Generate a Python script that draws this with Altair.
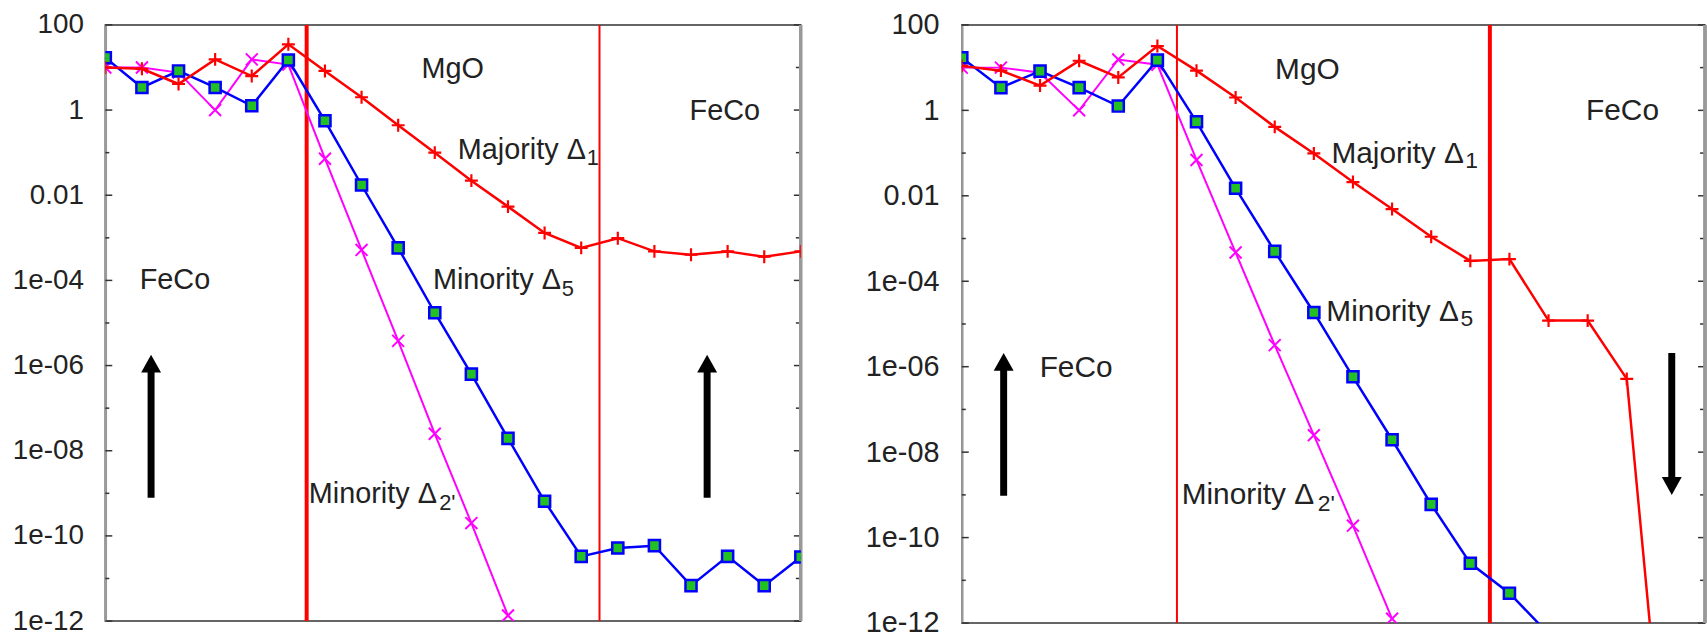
import altair as alt
import pandas as pd
import numpy as np

# ---------------- data ----------------
# x index of each monolayer: 0..19
# LEFT panel (parallel magnetisation)
L_red = [10, 9.3, 4.1, 15.5, 6.3, 35, 8.3, 2.0, 0.44, 0.10, 0.022, 5.4e-3, 1.3e-3,
         5.8e-4, 9.8e-4, 4.8e-4, 4.0e-4, 4.8e-4, 3.6e-4, 4.8e-4]
L_mag = [10, 10, 7.6, 1.0, 15.5, 11.7, 0.072, 5.2e-4, 3.8e-6, 2.5e-8, 2.0e-10, 1.35e-12]
L_blue = [17, 3.4, 8.3, 3.4, 1.26, 15, 0.56, 0.0174, 5.8e-4, 1.74e-5, 6.3e-7, 1.95e-8,
          6.5e-10, 3.3e-11, 5.2e-11, 5.9e-11, 6.8e-12, 3.3e-11, 6.8e-12, 3.2e-11]

# RIGHT panel (antiparallel magnetisation)
R_red = [11, 8.5, 3.8, 14.5, 5.9, 32, 8.5, 2.0, 0.41, 0.098, 0.021, 4.9e-3, 1.1e-3,
         3.0e-4, 3.3e-4, 1.2e-5, 1.2e-5, 5.2e-7, 1e-16]
R_mag = [10, 10, 7.6, 1.0, 15.5, 11.7, 0.069, 4.7e-4, 3.2e-6, 2.5e-8, 1.9e-10, 1.26e-12]
R_blue = [17, 3.4, 8.3, 3.4, 1.26, 15, 0.54, 0.015, 5.0e-4, 1.86e-5, 5.8e-7, 1.95e-8,
          6.0e-10, 2.5e-11, 5.0e-12, 5.6e-13]

# interface lines (x position, line width)
L_bound_x = [5.5, 13.5]
L_bound_w = [4, 2]
R_bound_x = [5.5, 13.5]
R_bound_w = [2, 4]

# annotations
L_text = ["MgO", "FeCo", "Majority Δ", "1", "Minority Δ", "5", "FeCo", "Minority Δ", "2'"]
L_text_x = [8.64, 15.96, 9.63, 13.15, 8.95, 12.47, 0.94, 5.56, 9.12]
L_text_y = [5.8, 0.60, 0.072, 0.050, 6.2e-5, 4.3e-5, 6.2e-5, 5.9e-10, 4.1e-10]
L_text_fs = [29, 29, 29, 22, 29, 22, 29, 29, 22]

R_text = ["MgO", "FeCo", "Majority Δ", "1", "Minority Δ", "5", "FeCo", "Minority Δ", "2'"]
R_text_x = [8.01, 15.96, 9.45, 12.87, 9.32, 12.75, 1.99, 5.62, 9.10]
R_text_y = [5.5, 0.59, 0.058, 0.044, 1.2e-5, 9.1e-6, 5.8e-7, 6.0e-10, 4.2e-10]
R_text_fs = [30, 30, 30, 23, 30, 23, 30, 30, 23]

# magnetisation arrows
L_arrow_x = [1.25, 16.44]
L_arrow_base = [7.9e-10, 7.9e-10]
L_arrow_shaft = [9e-7, 9e-7]
L_arrow_tip = [1.8e-6, 1.8e-6]
L_arrow_dir = ["up", "up"]

R_arrow_x = [1.07, 18.15]
R_arrow_base = [9.5e-10, 2.1e-6]
R_arrow_shaft = [1.05e-6, 2.0e-9]
R_arrow_tip = [2.1e-6, 1.0e-9]
R_arrow_dir = ["up", "down"]

# y axis (decades)
major_exp = [2, 0, -2, -4, -6, -8, -10, -12]
major_lab = ["100", "1", "0.01", "1e-04", "1e-06", "1e-08", "1e-10", "1e-12"]
minor_exp = [1, -1, -3, -5, -7, -9, -11]

FONT = "Liberation Sans"
UP_HEAD = "M-1,1.8L0,0L1,1.8Z"
DOWN_HEAD = "M-1,-1.8L0,0L1,-1.8Z"
PLUS = "M-1,0L1,0M0,-1L0,1"
CROSS = "M-1,-1L1,1M-1,1L1,-1"


def lg(vals):
    return list(np.log10(np.asarray(vals, dtype=float)))


def series_df(vals):
    return pd.DataFrame({"i": list(range(len(vals))), "v": lg(vals)})


def panel(red, mag, blue, bx, bw, texts, tx, ty, tfs,
          ax_x, ax_base, ax_shaft, ax_tip, ax_dir, W, H, label_fs, label_pad):
    xs = alt.Scale(domain=[0, 19], nice=False, zero=False)
    ys = alt.Scale(type="linear", domain=[-12, 2], nice=False, zero=False)
    parts = [f"datum.value == {e} ? '{lab}'" for e, lab in zip(major_exp, major_lab)]
    label_expr = " : ".join(parts) + " : ''"
    yaxis = alt.Axis(values=major_exp, labelExpr=label_expr,
                     ticks=False, labelPadding=label_pad, labelFontSize=label_fs,
                     labelFont=FONT, labelColor="#222", domainColor="#999",
                     domainWidth=2.5, grid=False, title=None, labelOverlap=False)

    def X():
        return alt.X("i:Q", scale=xs, axis=None)

    def Y(field="v:Q"):
        return alt.Y(field, scale=ys, axis=yaxis)

    layers = []
    mj = pd.DataFrame({"v": major_exp})
    mn = pd.DataFrame({"v": minor_exp})
    tcol = "#333"
    # inward ticks, left and right
    layers.append(alt.Chart(mj).mark_rule(color=tcol, strokeWidth=1.5).encode(
        y=Y(), x=alt.value(0), x2=alt.value(7)))
    layers.append(alt.Chart(mn).mark_rule(color=tcol, strokeWidth=1.5).encode(
        y=Y(), x=alt.value(0), x2=alt.value(4)))
    layers.append(alt.Chart(mj).mark_rule(color=tcol, strokeWidth=1.5).encode(
        y=Y(), x=alt.value(W - 7), x2=alt.value(W)))
    layers.append(alt.Chart(mn).mark_rule(color=tcol, strokeWidth=1.5).encode(
        y=Y(), x=alt.value(W - 5), x2=alt.value(W)))
    # right frame edge
    layers.append(alt.Chart(mj).mark_rule(color="#999", strokeWidth=2.5).encode(
        x=alt.value(W), y=alt.value(0), y2=alt.value(H)))

    # interface lines
    bdf = pd.DataFrame({"i": bx, "w": bw})
    layers.append(alt.Chart(bdf).mark_rule(color="#ff0000").encode(
        x=X(), strokeWidth=alt.StrokeWidth("w:Q", scale=None)))

    # series
    rdf, mdf, bdf2 = series_df(red), series_df(mag), series_df(blue)
    layers.append(alt.Chart(mdf).mark_line(color="#ff00ff", strokeWidth=2, clip=True).encode(x=X(), y=Y()))
    layers.append(alt.Chart(mdf).mark_point(shape=CROSS, size=144, filled=False, color="#ff00ff",
                                            strokeWidth=2, opacity=1, clip=True).encode(x=X(), y=Y()))
    layers.append(alt.Chart(bdf2).mark_line(color="#0000ff", strokeWidth=2.5, clip=True).encode(x=X(), y=Y()))
    layers.append(alt.Chart(bdf2).mark_point(shape="square", size=125, filled=True, fill="#22c022",
                                             stroke="#0000ff", strokeWidth=2.5, opacity=1,
                                             clip=True).encode(x=X(), y=Y()))
    layers.append(alt.Chart(rdf).mark_line(color="#ff0000", strokeWidth=2.5, clip=True).encode(x=X(), y=Y()))
    layers.append(alt.Chart(rdf).mark_point(shape=PLUS, size=169, filled=False, color="#ff0000",
                                            strokeWidth=2.2, opacity=1, clip=True).encode(x=X(), y=Y()))

    # text
    tdf = pd.DataFrame({"i": tx, "v": lg(ty), "t": texts, "fs": tfs})
    layers.append(alt.Chart(tdf).mark_text(align="left", baseline="alphabetic", font=FONT,
                                           color="#222").encode(
        x=X(), y=Y(), text="t:N", size=alt.Size("fs:Q", scale=None)))

    # arrows
    adf = pd.DataFrame({"i": ax_x, "v": lg(ax_base), "v2": lg(ax_shaft), "tip": lg(ax_tip), "d": ax_dir})
    layers.append(alt.Chart(adf).mark_rule(color="#000", strokeWidth=7, strokeCap="butt").encode(
        x=X(), y=Y(), y2="v2:Q"))
    layers.append(alt.Chart(adf).mark_point(filled=True, color="#000", size=400, opacity=1).encode(
        x=X(), y=Y("tip:Q"),
        shape=alt.Shape("d:N", scale=alt.Scale(domain=["up", "down"], range=[UP_HEAD, DOWN_HEAD]),
                        legend=None)))

    return alt.layer(*layers).properties(width=W, height=H)


left = panel(L_red, L_mag, L_blue, L_bound_x, L_bound_w, L_text, L_text_x, L_text_y, L_text_fs,
             L_arrow_x, L_arrow_base, L_arrow_shaft, L_arrow_tip, L_arrow_dir, 700, 600, 28, 22)
right = panel(R_red, R_mag, R_blue, R_bound_x, R_bound_w, R_text, R_text_x, R_text_y, R_text_fs,
              R_arrow_x, R_arrow_base, R_arrow_shaft, R_arrow_tip, R_arrow_dir, 748, 602, 29, 23)

chart = alt.hconcat(left, right, spacing=62).properties(
    padding={"left": 11, "top": 8, "right": 0, "bottom": 0},
    background="white",
).configure_view(stroke="#333", strokeWidth=1.5)

chart.save("out.html", embed_options={"renderer": "svg", "actions": False})
